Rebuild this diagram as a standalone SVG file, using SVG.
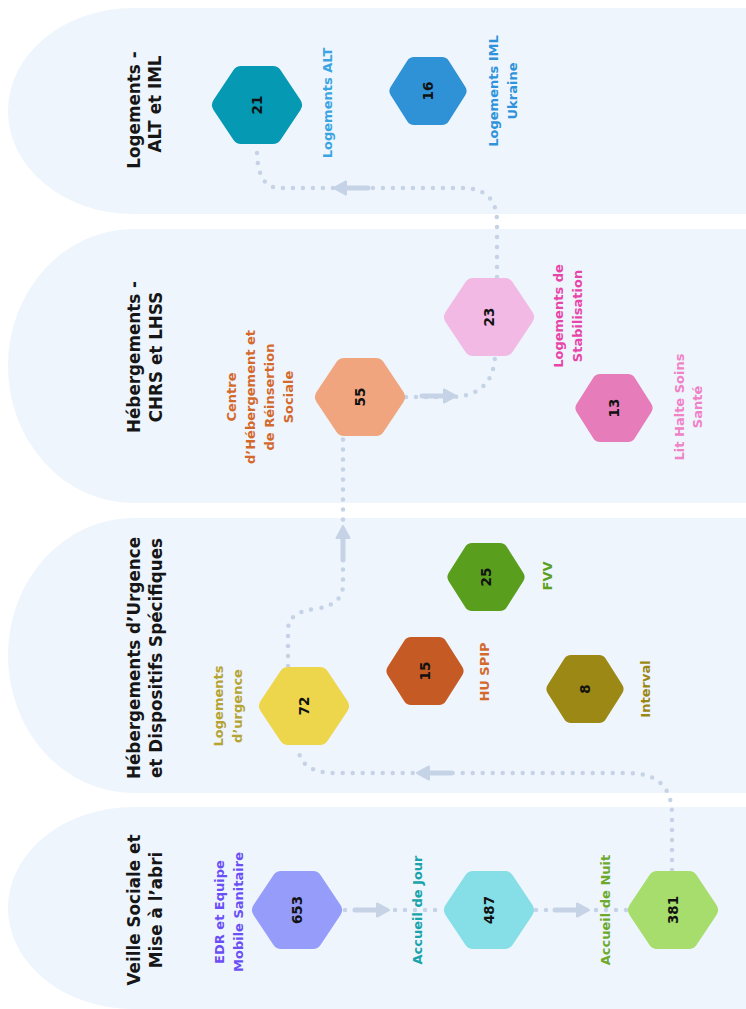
<svg xmlns="http://www.w3.org/2000/svg" xmlns:xlink="http://www.w3.org/1999/xlink" width="746" height="1009" viewBox="0 0 746 1009">
<style>
.band{fill:#EEF5FD}
.t{font-family:"DejaVu Sans","Noto Sans",sans-serif;font-weight:700;text-anchor:middle;dominant-baseline:central}
.title{font-size:16.8px;fill:#161616}
.lbl{font-size:13px}
.num{font-size:13.5px;fill:#111}
.hexL,.hexS{stroke-linejoin:round}
.hexL{stroke-width:18}
.hexS{stroke-width:16}
.dots{fill:none;stroke:#C6D3E7;stroke-width:4.5;stroke-linecap:round;stroke-dasharray:0 10}
.arr{fill:#C6D3E7;stroke:#C6D3E7}
</style>
<defs>
<path id="hL" d="M-36 0 L-16 -30 L16 -30 L36 0 L16 30 L-16 30 Z"/>
<path id="hS" d="M-30.5 0 L-14 -26 L14 -26 L30.5 0 L14 26 L-14 26 Z"/>
<g id="arrow">
<path d="M-35 0 H-12" stroke-width="5" stroke-linecap="round" fill="none"/>
<path d="M-1 0 L-13 -6.5 L-13 6.5 Z" stroke-width="2" stroke-linejoin="round"/>
</g>
</defs>

<g id="lanes">
<path class="band" d="M746 8 H133 A125 103 0 0 0 133 214 H746 Z"/>
<path class="band" d="M746 229 H133 A125 137 0 0 0 133 503 H746 Z"/>
<path class="band" d="M746 518 H133 A125 137.5 0 0 0 133 793 H746 Z"/>
<path class="band" d="M746 807 H133 A125 101 0 0 0 133 1009 H746 Z"/>
<text class="t title" transform="translate(134,110) rotate(-90)">Logements -</text>
<text class="t title" transform="translate(155,104) rotate(-90)">ALT et IML</text>
<text class="t title" transform="translate(134,357) rotate(-90)">Hébergements -</text>
<text class="t title" transform="translate(156,357) rotate(-90)">CHRS et LHSS</text>
<text class="t title" transform="translate(134,658) rotate(-90)">Hébergements d’Urgence</text>
<text class="t title" transform="translate(156,658) rotate(-90)">et Dispositifs Spécifiques</text>
<text class="t title" transform="translate(134,910) rotate(-90)">Veille Sociale et</text>
<text class="t title" transform="translate(156,910) rotate(-90)">Mise à l’abri</text>
</g>

<g id="connectors">
<path class="dots" d="M345 910 H445"/>
<path class="dots" d="M536 910 H628"/>
<path class="dots" d="M672 870 V815 Q672 773 628 773 H335 Q299 773 298 746"/>
<path class="dots" d="M288 666 V630 Q288 612 315 609 Q343 605 343 585 V438"/>
<path class="dots" d="M406 397 H450 Q493 397 495 356"/>
<path class="dots" d="M497 277 V222 Q497 188 462 188 H280 Q257 188 257 150"/>
<use xlink:href="#arrow" class="arr" transform="translate(390,910)"/>
<use xlink:href="#arrow" class="arr" transform="translate(590,910)"/>
<use xlink:href="#arrow" class="arr" transform="translate(416,773) rotate(180)"/>
<use xlink:href="#arrow" class="arr" transform="translate(343,525) rotate(-90)"/>
<use xlink:href="#arrow" class="arr" transform="translate(457,396)"/>
<use xlink:href="#arrow" class="arr" transform="translate(333,188) rotate(180)"/>
</g>

<g id="node-21">
<use xlink:href="#hL" class="hexL" transform="translate(257,105)" fill="#0599B4" stroke="#0599B4"/>
<text class="t num" transform="translate(257,105) rotate(-90)">21</text>
<text class="t lbl" fill="#3BA5E3" transform="translate(327,103) rotate(-90)">Logements ALT</text>
</g>
<g id="node-16">
<use xlink:href="#hS" class="hexS" transform="translate(428,91)" fill="#2F91D6" stroke="#2F91D6"/>
<text class="t num" transform="translate(428,91) rotate(-90)">16</text>
<text class="t lbl" fill="#2E93DA" transform="translate(493,91) rotate(-90)">Logements IML</text>
<text class="t lbl" fill="#2E93DA" transform="translate(512,91) rotate(-90)">Ukraine</text>
</g>
<g id="node-23">
<use xlink:href="#hL" class="hexL" transform="translate(489,317)" fill="#F2B9E4" stroke="#F2B9E4"/>
<text class="t num" transform="translate(489,317) rotate(-90)">23</text>
<text class="t lbl" fill="#E845A8" transform="translate(558,316) rotate(-90)">Logements de</text>
<text class="t lbl" fill="#E845A8" transform="translate(577,316) rotate(-90)">Stabilisation</text>
</g>
<g id="node-55">
<use xlink:href="#hL" class="hexL" transform="translate(360,397)" fill="#F0A57F" stroke="#F0A57F"/>
<text class="t num" transform="translate(360,397) rotate(-90)">55</text>
<text class="t lbl" fill="#D4692C" transform="translate(231,397) rotate(-90)">Centre</text>
<text class="t lbl" fill="#D4692C" transform="translate(250,397) rotate(-90)">d’Hébergement et</text>
<text class="t lbl" fill="#D4692C" transform="translate(269,397) rotate(-90)">de Réinsertion</text>
<text class="t lbl" fill="#D4692C" transform="translate(288,397) rotate(-90)">Sociale</text>
</g>
<g id="node-13">
<use xlink:href="#hS" class="hexS" transform="translate(614,408)" fill="#E67CB9" stroke="#E67CB9"/>
<text class="t num" transform="translate(614,408) rotate(-90)">13</text>
<text class="t lbl" fill="#F082C6" transform="translate(679,407) rotate(-90)">Lit Halte Soins</text>
<text class="t lbl" fill="#F082C6" transform="translate(697,407) rotate(-90)">Santé</text>
</g>
<g id="node-25">
<use xlink:href="#hS" class="hexS" transform="translate(486,577)" fill="#5A9E1E" stroke="#5A9E1E"/>
<text class="t num" transform="translate(486,577) rotate(-90)">25</text>
<text class="t lbl" fill="#5BA01F" transform="translate(547,576) rotate(-90)">FVV</text>
</g>
<g id="node-15">
<use xlink:href="#hS" class="hexS" transform="translate(425,671)" fill="#C65A25" stroke="#C65A25"/>
<text class="t num" transform="translate(425,671) rotate(-90)">15</text>
<text class="t lbl" fill="#D4692C" transform="translate(484,672) rotate(-90)">HU SPIP</text>
</g>
<g id="node-72">
<use xlink:href="#hL" class="hexL" transform="translate(304,706)" fill="#EDD64C" stroke="#EDD64C"/>
<text class="t num" transform="translate(304,706) rotate(-90)">72</text>
<text class="t lbl" fill="#B5A332" transform="translate(218,706) rotate(-90)">Logements</text>
<text class="t lbl" fill="#B5A332" transform="translate(237,706) rotate(-90)">d’urgence</text>
</g>
<g id="node-8">
<use xlink:href="#hS" class="hexS" transform="translate(585,689)" fill="#9C8814" stroke="#9C8814"/>
<text class="t num" transform="translate(585,689) rotate(-90)">8</text>
<text class="t lbl" fill="#9C8713" transform="translate(645,689) rotate(-90)">Interval</text>
</g>
<g id="node-653">
<use xlink:href="#hL" class="hexL" transform="translate(297,910)" fill="#959CFA" stroke="#959CFA"/>
<text class="t num" transform="translate(297,910) rotate(-90)">653</text>
<text class="t lbl" fill="#6B4FF6" transform="translate(219,912) rotate(-90)">EDR et Equipe</text>
<text class="t lbl" fill="#6B4FF6" transform="translate(238,912) rotate(-90)">Mobile Sanitaire</text>
</g>
<g id="node-487">
<use xlink:href="#hL" class="hexL" transform="translate(489,910)" fill="#86DEE7" stroke="#86DEE7"/>
<text class="t num" transform="translate(489,910) rotate(-90)">487</text>
<text class="t lbl" fill="#19A3AA" transform="translate(417,910) rotate(-90)">Accueil de Jour</text>
</g>
<g id="node-381">
<use xlink:href="#hL" class="hexL" transform="translate(673,910)" fill="#A6DD6C" stroke="#A6DD6C"/>
<text class="t num" transform="translate(673,910) rotate(-90)">381</text>
<text class="t lbl" fill="#6DAA2C" transform="translate(605,910) rotate(-90)">Accueil de Nuit</text>
</g>
</svg>
